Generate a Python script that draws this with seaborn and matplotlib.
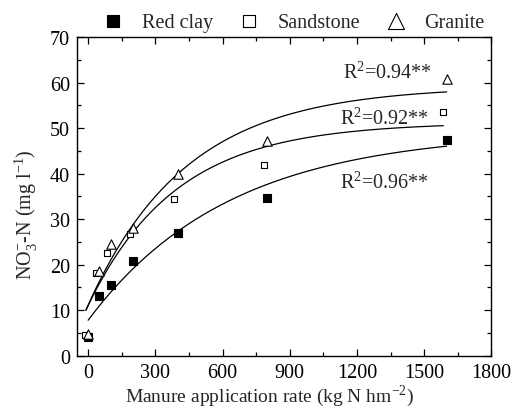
import numpy as np
import pandas as pd
import matplotlib
matplotlib.use("Agg")
import matplotlib.pyplot as plt
from matplotlib.ticker import MultipleLocator
import seaborn as sns

sns.set_theme(style="ticks")
plt.rcParams["font.family"] = ["Liberation Serif", "DejaVu Serif"]
plt.rcParams["mathtext.fontset"] = "custom"
plt.rcParams["mathtext.rm"] = "Liberation Serif"

# ---------------------------------------------------------------
# Data
# ---------------------------------------------------------------
rate = [0, 50, 100, 200, 400, 800, 1600]
rate_sandstone = [-15, 35, 85, 185, 385, 785, 1585]   # drawn slightly offset in the original

red_clay = [4.0, 13.1, 15.5, 20.7, 26.9, 34.7, 47.4]
sandstone = [4.5, 18.2, 22.6, 26.8, 34.5, 42.0, 53.6]
granite = [4.7, 18.6, 24.6, 28.0, 39.9, 47.1, 60.9]

# fitted curves y = y0 + A * (1 - exp(-b * (x - x0)))
fit_params = {
    "Red clay": dict(x0=0, x1=1600, y0=7.8, A=41.5, b=0.00159),
    "Sandstone": dict(x0=-10, x1=1585, y0=10.0, A=41.25, b=0.00255),
    "Granite": dict(x0=-10, x1=1600, y0=10.0, A=49.2, b=0.00229),
}
r2_labels = ["R$^{\\mathregular{2}}$=0.94**", "R$^{\\mathregular{2}}$=0.92**",
             "R$^{\\mathregular{2}}$=0.96**"]
r2_pos = [(1137, 61.1), (1122, 51.0), (1122, 36.8)]

FS = 14.5

# ---------------------------------------------------------------
# Plot
# ---------------------------------------------------------------
fig = plt.figure(figsize=(5.13, 4.10), dpi=100)
ax = fig.add_axes([0.150, 0.130, 0.808, 0.777])

for name, p in fit_params.items():
    xs = np.linspace(p["x0"], p["x1"], 200)
    curve = pd.DataFrame({"x": xs, "y": p["y0"] + p["A"] * (1 - np.exp(-p["b"] * (xs - p["x0"])))})
    sns.lineplot(data=curve, x="x", y="y", color="black", lw=0.9, ax=ax)

sns.scatterplot(x=rate, y=red_clay, marker="s", s=30, color="black",
                edgecolor="black", linewidth=0.8, ax=ax, label="Red clay", zorder=3)
sns.scatterplot(x=rate_sandstone, y=sandstone, marker="s", s=24, color="white",
                edgecolor="black", linewidth=0.8, ax=ax, label="Sandstone", zorder=3)
sns.scatterplot(x=rate, y=granite, marker="^", s=46, color="white",
                edgecolor="black", linewidth=0.8, ax=ax, label="Granite", zorder=3)

for txt, (tx, ty) in zip(r2_labels, r2_pos):
    ax.text(tx, ty, txt, fontsize=FS, ha="left", va="baseline")

ax.set_xlim(-50, 1800)
ax.set_ylim(0, 70)
ax.xaxis.set_major_locator(MultipleLocator(300))
ax.xaxis.set_minor_locator(MultipleLocator(150))
ax.yaxis.set_major_locator(MultipleLocator(10))
ax.yaxis.set_minor_locator(MultipleLocator(5))
ax.tick_params(which="both", direction="in", top=True, right=True, colors="black",
               labelsize=FS, width=0.9)
ax.tick_params(which="major", length=5, pad=5)
ax.tick_params(which="minor", length=3)
for sp in ax.spines.values():
    sp.set_linewidth(1.0)
    sp.set_color("black")

ax.set_xlabel("Manure application rate (kg N hm$^{\\mathregular{-2}}$)", fontsize=14)
ax.set_ylabel("NO$_{\\mathregular{3}}^{\\mathregular{-}}$-N (mg l$^{\\mathregular{-1}}$)", fontsize=FS)
ax.xaxis.set_label_coords(0.465, -0.084)
ax.yaxis.set_label_coords(-0.088, 0.445)

handles, labels = ax.get_legend_handles_labels()
ax.get_legend().remove()
fig.legend(handles, labels, loc="center", bbox_to_anchor=(0.573, 0.944), ncol=3,
           frameon=False, fontsize=FS, markerscale=1.7, handletextpad=0.9,
           columnspacing=1.3, handlelength=1.0)

fig.savefig("out.png", dpi=100)
